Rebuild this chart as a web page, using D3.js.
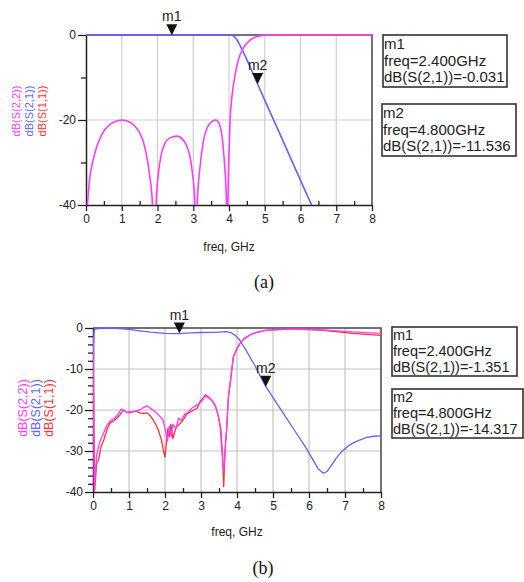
<!DOCTYPE html>
<html>
<head>
<meta charset="utf-8">
<script src="https://cdn.jsdelivr.net/npm/d3@7"></script>
<style>
  body { margin: 0; background: #fff; }
  svg { display: block; }
</style>
</head>
<body>
<script>
// ---- data -------------------------------------------------------------
const freqTicks = [0, 1, 2, 3, 4, 5, 6, 7, 8];
const yTicksA = [0, -20, -40];
const yTicksB = [0, -10, -20, -30, -40];
const traceNames = ["dB(S(2,2))", "dB(S(2,1))", "dB(S(1,1))"];

// (a) simulated response, [freq GHz, dB]; S11 lies under S22 and is not drawn separately
const s22A = [
  [0.04, -40], [0.1, -34], [0.2, -29.4], [0.3, -26.3], [0.4, -24.2], [0.5, -22.6],
  [0.65, -21.2], [0.8, -20.4], [1.0, -20], [1.2, -20.4], [1.35, -21.3], [1.5, -23],
  [1.6, -25], [1.7, -28.6], [1.78, -33], [1.86, -40], [1.91, -70],
  [1.96, -40], [2.02, -33], [2.1, -28.3], [2.2, -25.6], [2.35, -24.2], [2.55, -23.8],
  [2.7, -24.5], [2.8, -25.8], [2.9, -28.3], [2.97, -32], [3.05, -40], [3.08, -70],
  [3.11, -40], [3.19, -31], [3.29, -24.7], [3.38, -22], [3.5, -20.5], [3.63, -20],
  [3.72, -20.8], [3.78, -22.5], [3.86, -28.6], [3.91, -35], [3.93, -40], [3.95, -70],
  [3.97, -40], [4.0, -28], [4.03, -20], [4.07, -15.5], [4.12, -12], [4.19, -8.5],
  [4.26, -5.9], [4.4, -3.1], [4.59, -1.2], [4.87, -0.2], [5.1, 0], [8, 0]
];
const s21A = [
  [0, 0], [4.05, 0], [4.12, -0.2], [4.2, -0.9], [4.3, -2.3], [4.4, -4], [4.5, -5.8],
  [4.6, -7.7], [4.7, -9.6], [4.8, -11.536], [5.2, -19.1], [5.6, -26.6], [6.0, -34.2],
  [6.32, -40.2]
];
const markersA = [
  { name: "m1", freq: 2.4, db: -0.031 },
  { name: "m2", freq: 4.8, db: -11.536 }
];

// (b) measured response, [freq GHz, dB]
const s22B = [
  [0, -2], [0.02, -25], [0.04, -40], [0.06, -36], [0.1, -31], [0.15, -29], [0.2, -27.5],
  [0.3, -25.5], [0.4, -23.5], [0.5, -22.5], [0.6, -22], [0.7, -21], [0.78, -19.8],
  [0.85, -20.1], [0.95, -20.6], [1.0, -20.4], [1.1, -20.5], [1.2, -20.2], [1.3, -20],
  [1.4, -19.4], [1.5, -19], [1.55, -19.3], [1.65, -19.9], [1.75, -20.6], [1.85, -21.5],
  [1.95, -22.5], [2.02, -25.5], [2.07, -27.5], [2.12, -24], [2.17, -26.5], [2.22, -23.5],
  [2.3, -24.5], [2.38, -22], [2.45, -22.5], [2.55, -21], [2.65, -20.5], [2.75, -19.5],
  [2.85, -19], [2.95, -18.5], [3.05, -17.5], [3.12, -16.5], [3.2, -17], [3.3, -17.6],
  [3.4, -19], [3.47, -21], [3.53, -24], [3.58, -30], [3.61, -34], [3.63, -35],
  [3.66, -31], [3.71, -25], [3.76, -17], [3.81, -13.5], [3.9, -7], [4.0, -5],
  [4.09, -3.7], [4.2, -2.6], [4.36, -1.7], [4.5, -1.2], [4.64, -0.9], [4.8, -0.6],
  [5.0, -0.45], [5.3, -0.35], [5.6, -0.3], [6.0, -0.35], [6.4, -0.45], [6.8, -0.7],
  [7.2, -0.95], [7.6, -1.15], [8.0, -1.3]
];
const s11B = [
  [0, -0.5], [0.02, -20], [0.04, -40], [0.06, -38], [0.1, -33], [0.16, -32], [0.22, -29],
  [0.3, -27.3], [0.4, -24.5], [0.47, -23.2], [0.6, -22.5], [0.75, -21.2], [0.84, -20],
  [0.92, -20.5], [1.0, -20.7], [1.1, -20.4], [1.2, -20.3], [1.3, -20.7], [1.4, -20.8],
  [1.5, -20.7], [1.6, -21.5], [1.7, -22.8], [1.8, -24.5], [1.9, -27.3], [1.97, -30.5],
  [2.0, -31.5], [2.04, -28], [2.08, -24.5], [2.12, -26.5], [2.16, -23.5], [2.22, -27],
  [2.28, -25], [2.33, -24], [2.4, -23.5], [2.5, -22.5], [2.6, -21], [2.7, -20.5],
  [2.8, -20], [2.9, -19.5], [2.97, -18], [3.05, -17.2], [3.12, -16.3], [3.2, -16.8],
  [3.3, -17.6], [3.4, -19], [3.48, -21.5], [3.55, -24.5], [3.6, -31], [3.63, -38.7],
  [3.65, -34], [3.68, -28], [3.71, -25], [3.76, -17], [3.81, -13.5], [3.9, -7],
  [4.0, -5], [4.09, -3.7], [4.2, -2.6], [4.36, -1.7], [4.5, -1.2], [4.64, -0.9],
  [4.8, -0.6], [5.0, -0.45], [5.3, -0.35], [5.6, -0.3], [6.0, -0.4], [6.4, -0.6],
  [6.8, -0.95], [7.2, -1.3], [7.6, -1.55], [8.0, -1.8]
];
const s21B = [
  [0, -18], [0.015, -4], [0.04, -0.3], [0.3, 0], [0.6, -0.1], [1.0, -0.35], [1.3, -0.7],
  [1.6, -1.0], [2.0, -1.3], [2.4, -1.351], [2.7, -1.2], [3.0, -1.1], [3.4, -1.05],
  [3.7, -0.9], [3.85, -1.2], [3.95, -1.8], [4.05, -2.6], [4.18, -4.4], [4.3, -6.2],
  [4.5, -9.2], [4.65, -11.8], [4.8, -14.317], [5.0, -17], [5.3, -21], [5.6, -25],
  [5.9, -29], [6.1, -32], [6.25, -34.3], [6.4, -35.4], [6.5, -35], [6.6, -33.8],
  [6.75, -31.8], [6.9, -30.2], [7.1, -28.7], [7.3, -27.7], [7.6, -26.7], [7.8, -26.4],
  [8.0, -26.3]
];
const markersB = [
  { name: "m1", freq: 2.4, db: -1.351 },
  { name: "m2", freq: 4.8, db: -14.317 }
];

// ---- drawing ----------------------------------------------------------
const W = 524, H = 582;
const colors = { s22: "#ff3cff", s21: "#6262ff", s11: "#ff3030" };
const svg = d3.select("body").append("svg").attr("width", W).attr("height", H)
  .attr("font-family", "Arial, 'Liberation Sans', sans-serif");

function drawPanel(p) {
  const x = d3.scaleLinear().domain([0, 8]).range([p.left, p.right]);
  const y = d3.scaleLinear().domain([-40, 0]).range([p.bottom, p.top]);
  const g = svg.append("g");

  // grid
  g.append("g").selectAll("line").data(freqTicks.filter(f => f > 0 && f < 8)).join("line")
    .attr("x1", d => x(d)).attr("x2", d => x(d)).attr("y1", p.top).attr("y2", p.bottom)
    .attr("stroke", p.grid).attr("stroke-width", 1.2);
  g.append("g").selectAll("line").data(p.gridY).join("line")
    .attr("x1", p.left).attr("x2", p.right).attr("y1", d => y(d)).attr("y2", d => y(d))
    .attr("stroke", p.grid).attr("stroke-width", 1.2);

  // top and right frame
  g.append("path")
    .attr("d", `M${p.left},${p.top}H${p.right}V${p.bottom}`)
    .attr("fill", "none").attr("stroke", "#444").attr("stroke-width", 1.5);

  // axes
  const styleAxis = sel => {
    sel.attr("font-family", null);
    sel.selectAll("path.domain").attr("stroke", "#222").attr("stroke-width", 1.5);
    sel.selectAll(".tick line").attr("stroke", "#222").attr("stroke-width", 1.3);
    sel.selectAll("text").attr("font-size", p.tickFont).attr("fill", "#222");
  };
  g.append("g").attr("transform", `translate(0,${p.bottom})`)
    .call(d3.axisBottom(x).tickValues(freqTicks).tickSize(6).tickSizeOuter(0)
      .tickPadding(3).tickFormat(d3.format("d")))
    .call(styleAxis);
  g.append("g").attr("transform", `translate(0,${p.bottom})`)
    .call(d3.axisBottom(x).tickValues(d3.range(0.5, 8, 1)).tickSize(-4).tickSizeOuter(0)
      .tickFormat(""))
    .call(styleAxis).call(s => s.select("path.domain").remove());
  g.append("g").attr("transform", `translate(${p.left},0)`)
    .call(d3.axisLeft(y).tickValues(p.yTicks).tickSize(8).tickSizeOuter(0)
      .tickPadding(2).tickFormat(d => String(d)))
    .call(styleAxis);
  g.append("g").attr("transform", `translate(${p.left},0)`)
    .call(d3.axisLeft(y).tickValues(p.yMinor).tickSize(5).tickSizeOuter(0).tickFormat(""))
    .call(styleAxis).call(s => s.select("path.domain").remove());

  // x axis title
  g.append("text").attr("x", p.xTitle[0]).attr("y", p.xTitle[1])
    .attr("text-anchor", "middle").attr("font-size", p.tickFont).attr("fill", "#222")
    .text("freq, GHz");

  // trace names, rotated
  const names = [
    { t: traceNames[0], c: colors.s22 },
    { t: traceNames[1], c: colors.s21 },
    { t: traceNames[2], c: colors.s11 }
  ];
  g.append("g").selectAll("text").data(names).join("text")
    .attr("transform", (d, i) => `translate(${p.legendX[i]},${p.legendY}) rotate(-90)`)
    .attr("text-anchor", "middle").attr("dy", "0.35em")
    .attr("font-size", p.legendFont).attr("fill", d => d.c).text(d => d.t);

  // traces: S11 underneath, then S21, then S22 on top
  const clipId = "clip" + p.id;
  g.append("clipPath").attr("id", clipId).append("rect")
    .attr("x", p.left).attr("y", p.top - 3)
    .attr("width", p.right - p.left).attr("height", p.bottom - p.top + 3);
  const line = d3.line().x(d => x(d[0])).y(d => y(d[1])).curve(p.curve);
  const traces = [
    { d: p.s11, c: colors.s11 },
    { d: p.s21, c: colors.s21 },
    { d: p.s22, c: colors.s22 }
  ].filter(t => t.d);
  g.append("g").attr("clip-path", `url(#${clipId})`)
    .selectAll("path").data(traces).join("path")
    .attr("d", d => line(d.d)).attr("fill", "none")
    .attr("stroke", d => d.c).attr("stroke-width", p.lineW)
    .attr("stroke-linejoin", "round");

  // markers
  const mk = g.append("g").selectAll("g").data(p.markers).join("g")
    .attr("transform", d => `translate(${x(d.freq)},${y(d.db)})`);
  mk.append("path").attr("d", "M0,0L-5.5,-11L5.5,-11Z").attr("fill", "#111");
  mk.append("text").attr("y", -14).attr("text-anchor", "middle")
    .attr("font-size", 14).attr("fill", "#222").text(d => d.name);

  // marker readouts
  p.markers.forEach((m, i) => {
    const b = p.boxes[i];
    g.append("rect").attr("x", b[0]).attr("y", b[1]).attr("width", b[2]).attr("height", b[3])
      .attr("fill", "none").attr("stroke", "#333").attr("stroke-width", 1.6);
    const lines = [m.name, `freq=${m.freq.toFixed(3)}GHz`, `dB(S(2,1))=${m.db.toFixed(3)}`];
    g.append("g").selectAll("text").data(lines).join("text")
      .attr("x", b[0] + 1).attr("y", (d, k) => b[1] + p.boxLine[k])
      .attr("font-size", p.boxFont).attr("fill", "#222").text(d => d);
  });

  // caption
  svg.append("text").attr("x", p.caption[0]).attr("y", p.caption[1])
    .attr("text-anchor", "middle").attr("font-size", 18)
    .attr("font-family", "'Liberation Serif', 'Times New Roman', serif")
    .attr("fill", "#111").text(p.captionText);
}

drawPanel({
  id: "A", left: 86, right: 372, top: 35, bottom: 205,
  yTicks: yTicksA, yMinor: [-10, -30], gridY: [-20], grid: "#cfcfcf",
  s22: s22A, s21: s21A, s11: null, markers: markersA, curve: d3.curveMonotoneX, lineW: 1.6,
  tickFont: 12, xTitle: [229, 251], legendX: [16, 29, 42], legendY: 111, legendFont: 11,
  boxes: [[383, 35, 124, 52], [382, 104, 134, 52]], boxLine: [14, 31, 47], boxFont: 15,
  caption: [264, 288], captionText: "(a)"
});
drawPanel({
  id: "B", left: 93, right: 381, top: 328, bottom: 492,
  yTicks: yTicksB, yMinor: d3.range(-38, 0, 2).filter(v => v % 10 !== 0), gridY: [-10, -20, -30],
  grid: "#c4c4c4",
  s22: s22B, s21: s21B, s11: s11B, markers: markersB, curve: d3.curveLinear, lineW: 1.3,
  tickFont: 12, xTitle: [237, 536], legendX: [23, 36, 49], legendY: 408, legendFont: 12.5,
  boxes: [[392, 327, 125, 49], [392, 389, 131, 49]], boxLine: [13, 29, 45], boxFont: 14.5,
  caption: [263, 574], captionText: "(b)"
});
</script>
</body>
</html>
